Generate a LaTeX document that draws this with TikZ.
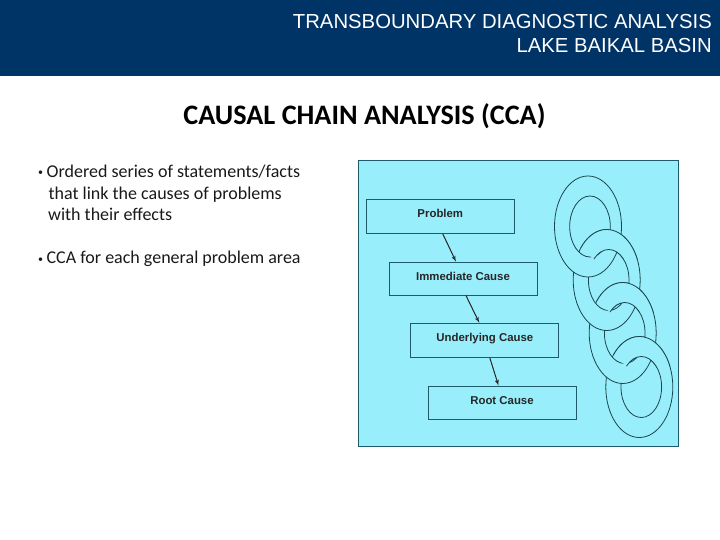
\documentclass[tikz,border=0pt]{standalone}
\usepackage{fontspec}
\setmainfont{Carlito}
\newfontfamily\headfont{Liberation Sans}
\usetikzlibrary{positioning,arrows}
\definecolor{bandblue}{HTML}{003366}
\definecolor{panelblue}{HTML}{99EEFB}
\definecolor{paneledge}{HTML}{1F5A6B}
\definecolor{chainline}{HTML}{1A4650}
\newcommand{\chainring}[2]{%
    \path[draw=chainline,line width=0.8pt,fill=panelblue,even odd rule]
        (#1,#2) ellipse [x radius=33.5,y radius=50.5]
        (#1+2,#2) ellipse [x radius=20.3,y radius=30.5];
}
\newcommand{\smallbullet}{\raisebox{1.5pt}{\fontsize{10}{10}\selectfont\textbullet}\hspace{-0.6pt}}
\begin{document}
\begin{tikzpicture}[x=1pt,y=-1pt]
    \tikzstyle{cause}=[rectangle,draw=paneledge,line width=0.9pt,fill=panelblue,minimum width=148pt,minimum height=34pt,inner sep=0pt,text height=8pt,text depth=5pt,font=\headfont\bfseries\fontsize{11.4}{13}\selectfont,text=black!85]
    \tikzstyle{bodytext}=[anchor=base west,inner sep=0pt,font=\fontsize{18}{21}\selectfont,text=black!90]
    \tikzstyle{edge}=[->,>=latex',line width=1pt,draw=black!85]

    \useasboundingbox (0,0) rectangle (720,540);
    \fill[bandblue] (0,0) rectangle (720,76);

    \node[anchor=north east,inner sep=0pt,align=right,text=white,font=\headfont\fontsize{20.3}{24}\selectfont] (header) at (712,14) {TRANSBOUNDARY DIAGNOSTIC ANALYSIS\\LAKE BAIKAL BASIN};
    \node[anchor=base,inner sep=0pt,font=\bfseries\fontsize{28.2}{32}\selectfont] (title) at (364.5,124.5) {CAUSAL CHAIN ANALYSIS (CCA)};

    \node[bodytext] (point1a) at (38,177.5) {\smallbullet\ Ordered series of statements/facts};
    \node[bodytext] (point1b) at (48.5,199.5) {that link the causes of problems};
    \node[bodytext] (point1c) at (48,220.5) {with their effects};
    \node[bodytext] (point2) at (38,263.5) {\smallbullet\ CCA for each general problem area};

    \draw[paneledge,line width=0.7pt,fill=panelblue] (358.3,160) rectangle (678.3,446);

    % chain, lowest link first
    \chainring{639.3}{387}
    \chainring{622.7}{333}
    \chainring{606.7}{280}
    \chainring{588}{226.5}
    \foreach \cx/\cy in {606.7/280,622.7/333,639.3/387}{
        \begin{scope}
            \clip (\cx-30,\cy-35) -- (\cx-11.7,\cy-20) -- (\cx+43,\cy-20) -- (\cx+43,\cy-63) -- (\cx-30,\cy-63) -- cycle;
            \chainring{\cx}{\cy}
        \end{scope}
    }

    \node[cause] (problem) at (440.3,216.3) {Problem};
    \node[cause,minimum height=33pt] (immediate) at (463,278.6) {Immediate Cause};
    \node[cause] (underlying) at (484.8,340.3) {Underlying Cause};
    \node[cause,minimum height=33pt] (root) at (502,402.6) {Root Cause};

    \draw[edge] ([xshift=2.4pt]problem.south) -- ([xshift=-7pt]immediate.north);
    \draw[edge] ([xshift=3pt]immediate.south) -- ([xshift=-5.5pt]underlying.north);
    \draw[edge] ([xshift=5pt]underlying.south) -- ([xshift=-3.5pt]root.north);
\end{tikzpicture}
\end{document}
